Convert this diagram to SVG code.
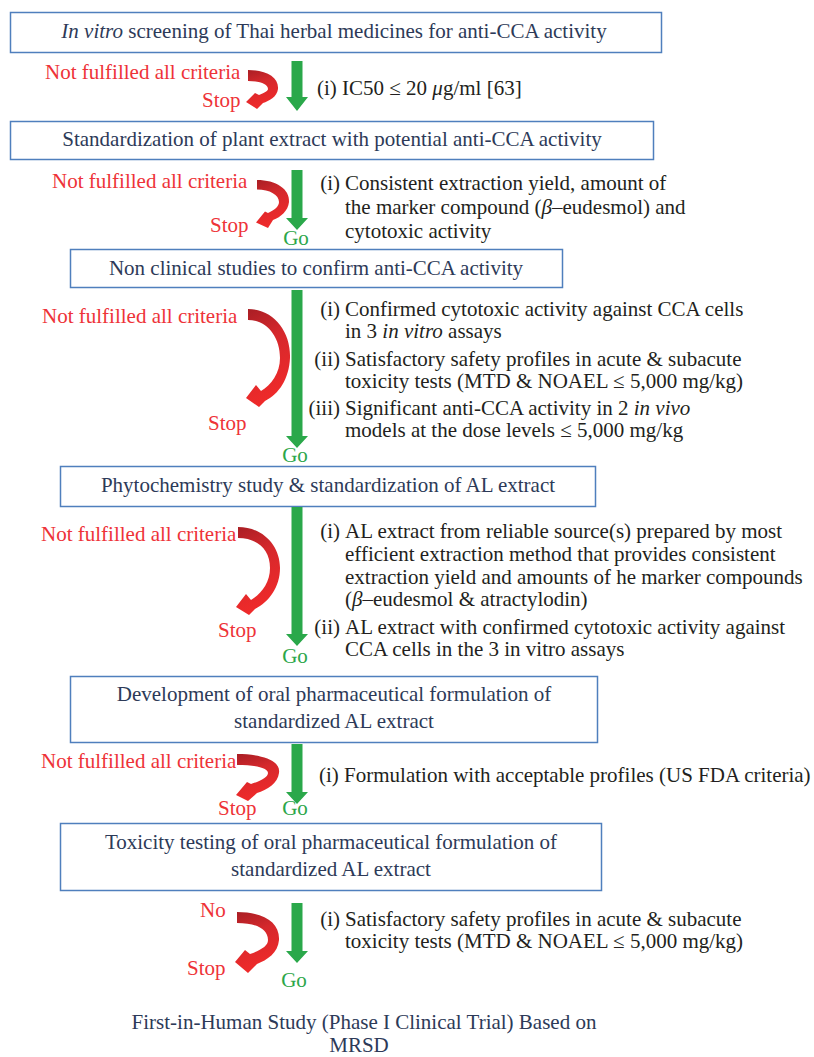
<svg xmlns="http://www.w3.org/2000/svg" width="814" height="1057" viewBox="0 0 814 1057">
<defs>
<linearGradient id="rg" x1="0" y1="0" x2="0.25" y2="1">
<stop offset="0" stop-color="#a81e24"/>
<stop offset="0.4" stop-color="#d5282c"/>
<stop offset="1" stop-color="#ef2a2a"/>
</linearGradient>
<style>
text{font-family:"Liberation Serif","Times New Roman",serif;font-size:21px}
.box{fill:#fff;stroke:#4f7fbd;stroke-width:1.5}
.bt{fill:#2d3a58;text-anchor:middle}
.rt{fill:#ee3338}
.gt{fill:#2ca64a;text-anchor:middle}
.ct{fill:#231f20}
.lb{text-anchor:end}
.ga{fill:#2aa84a}
.ra{fill:url(#rg)}
.it{font-style:italic}
</style>
</defs>
<rect width="814" height="1057" fill="#fff"/>

<g id="node1">
<rect class="box" x="10.5" y="12.5" width="651" height="40"/>
<text class="bt" x="334" y="38"><tspan class="it">In vitro</tspan> screening of Thai herbal medicines for anti-CCA activity</text>
</g>
<g id="node2">
<rect class="box" x="10.5" y="121.5" width="643" height="38"/>
<text class="bt" x="332" y="146">Standardization of plant extract with potential anti-CCA activity</text>
</g>
<g id="node3">
<rect class="box" x="70.5" y="249.5" width="492" height="38"/>
<text class="bt" x="316" y="275">Non clinical studies to confirm anti-CCA activity</text>
</g>
<g id="node4">
<rect class="box" x="60.5" y="466.5" width="535" height="40"/>
<text class="bt" x="328" y="492">Phytochemistry study &amp; standardization of AL extract</text>
</g>
<g id="node5">
<rect class="box" x="70.5" y="676.5" width="527" height="66"/>
<text class="bt" x="334" y="701">Development of oral pharmaceutical formulation of</text>
<text class="bt" x="334" y="728">standardized AL extract</text>
</g>
<g id="node6">
<rect class="box" x="60.5" y="823.5" width="541" height="67"/>
<text class="bt" x="331" y="849">Toxicity testing of oral pharmaceutical formulation of</text>
<text class="bt" x="331" y="876">standardized AL extract</text>
</g>
<g id="node7">
<text class="bt" x="364" y="1029">First-in-Human Study (Phase I Clinical Trial) Based on</text>
<text class="bt" x="359" y="1052">MRSD</text>
</g>

<g id="connectors">
<path class="ga" d="M291.5,61H302.5V97H308L297,111L286,97H291.5Z"/>
<path class="ga" d="M291.5,170H302.5V218H308L297,230L286,218H291.5Z"/>
<path class="ga" d="M291.5,290H302.5V436H308L297,448L286,436H291.5Z"/>
<path class="ga" d="M291.5,507H302.5V634H308L297,646L286,634H291.5Z"/>
<path class="ga" d="M291.5,744H302.5V792H308L297,804L286,792H291.5Z"/>
<path class="ga" d="M291.5,903H302.5V951H308L297,963L286,951H291.5Z"/>

<path class="ra" d="M248,70C266,70 279,77 278,89C277,97 269,101 263,103L257,109L246,102L255,93L259,95C264,93 268,91 268,89C268,84 260,81 248,81Z"/>
<path class="ra" d="M257,180C276,180 290,189 289,202C288,211 281,217 273,220L268,228L256,222.5L265,211.5L268,213C275,210 279,206 279,202C279,195 270,189.5 257,189.5Z"/>
<path class="ra" d="M248,309C274,309 291,332 290,358C289,379 279,394 265,401L259,407L246,398L256,385L261,391C271,385 280,373 280,358C280,337 267,320 248,320Z"/>
<path class="ra" d="M238,527C263,527 280,546 280,568C280,587 269,602 255,609L249,615L236,607L246,594L251,600C261,594 270,583 270,568C270,549 257,538 238,538Z"/>
<path class="ra" d="M237,754C261,754 281,760 279,773C278,783 267,790 257,793L248,801L236,795L247,782L251,784C261,781 268,777 268,773C268,768 256,765 237,765Z"/>
<path class="ra" d="M237,912C263,912 280,922 279,940C278,953 267,960 257,964L248,973L235,962L245,950L250,954C261,950 268,946 268,940C268,929 256,923 237,923Z"/>
</g>

<g id="labels">
<text class="rt" x="45" y="79">Not fulfilled all criteria</text>
<text class="rt" x="202" y="107">Stop</text>
<text class="rt" x="52" y="188">Not fulfilled all criteria</text>
<text class="rt" x="210" y="232">Stop</text>
<text class="gt" x="296" y="245">Go</text>
<text class="rt" x="42" y="323">Not fulfilled all criteria</text>
<text class="rt" x="208" y="430">Stop</text>
<text class="gt" x="295" y="462">Go</text>
<text class="rt" x="41" y="541">Not fulfilled all criteria</text>
<text class="rt" x="218" y="637">Stop</text>
<text class="gt" x="295" y="663">Go</text>
<text class="rt" x="41" y="768">Not fulfilled all criteria</text>
<text class="rt" x="218" y="815">Stop</text>
<text class="gt" x="295" y="815">Go</text>
<text class="rt" x="200" y="917">No</text>
<text class="rt" x="187" y="975">Stop</text>
<text class="gt" x="294" y="987">Go</text>
</g>

<g id="criteria">
<text class="ct" x="317" y="95">(i) IC50 ≤ 20 <tspan class="it">μ</tspan>g/ml [63]</text>

<text class="ct lb" x="340" y="190">(i)</text>
<text class="ct" x="345" y="190">Consistent extraction yield, amount of</text>
<text class="ct" x="345" y="214">the marker compound (<tspan class="it">β</tspan>–eudesmol) and</text>
<text class="ct" x="345" y="238">cytotoxic activity</text>

<text class="ct lb" x="340" y="316">(i)</text>
<text class="ct" x="345" y="316">Confirmed cytotoxic activity against CCA cells</text>
<text class="ct" x="345" y="338">in 3 <tspan class="it">in vitro</tspan> assays</text>
<text class="ct lb" x="340" y="366">(ii)</text>
<text class="ct" x="345" y="366">Satisfactory safety profiles in acute &amp; subacute</text>
<text class="ct" x="345" y="388">toxicity tests (MTD &amp; NOAEL ≤ 5,000 mg/kg)</text>
<text class="ct lb" x="340" y="415">(iii)</text>
<text class="ct" x="345" y="415">Significant anti-CCA activity in 2 <tspan class="it">in vivo</tspan></text>
<text class="ct" x="345" y="437">models at the dose levels ≤ 5,000 mg/kg</text>

<text class="ct lb" x="340" y="538">(i)</text>
<text class="ct" x="345" y="538">AL extract from reliable source(s) prepared by most</text>
<text class="ct" x="345" y="561">efficient extraction method that provides consistent</text>
<text class="ct" x="345" y="584">extraction yield and amounts of he marker compounds</text>
<text class="ct" x="345" y="606">(<tspan class="it">β</tspan>–eudesmol &amp; atractylodin)</text>
<text class="ct lb" x="340" y="634">(ii)</text>
<text class="ct" x="345" y="634">AL extract with confirmed cytotoxic activity against</text>
<text class="ct" x="345" y="656">CCA cells in the 3 in vitro assays</text>

<text class="ct" x="319" y="782">(i) Formulation with acceptable profiles (US FDA criteria)</text>

<text class="ct lb" x="340" y="926">(i)</text>
<text class="ct" x="345" y="926">Satisfactory safety profiles in acute &amp; subacute</text>
<text class="ct" x="345" y="948">toxicity tests (MTD &amp; NOAEL ≤ 5,000 mg/kg)</text>
</g>
</svg>
